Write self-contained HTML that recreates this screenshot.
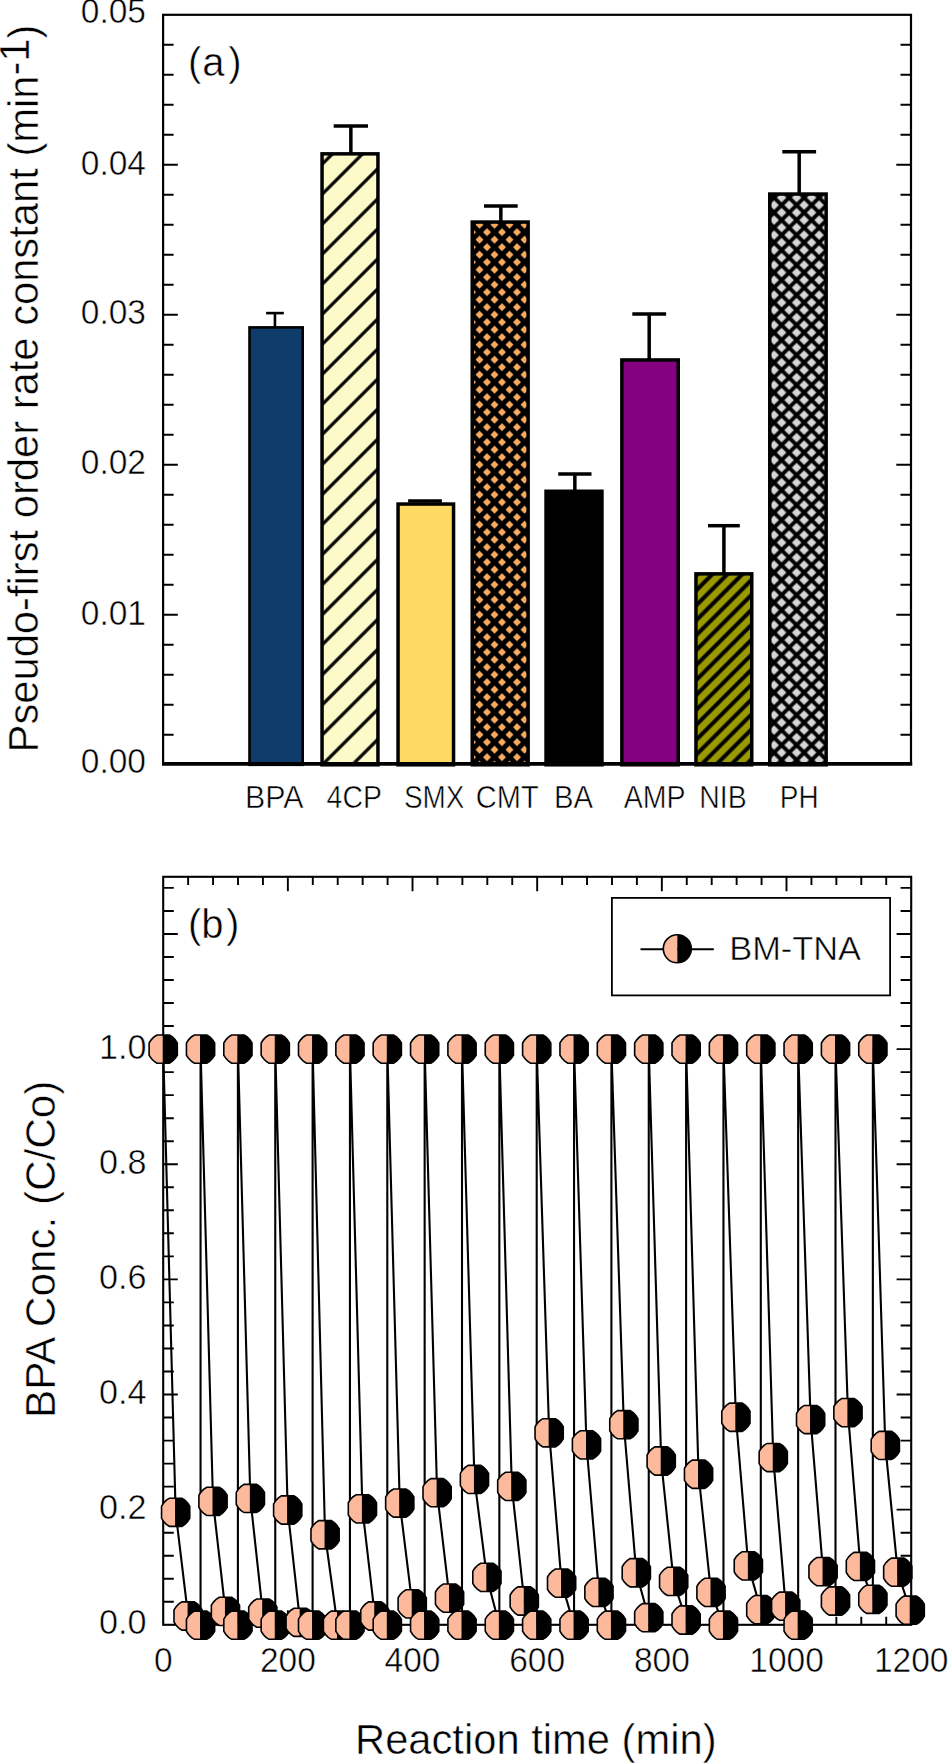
<!DOCTYPE html>
<html><head><meta charset="utf-8"><title>Figure</title>
<style>html,body{margin:0;padding:0;background:#fff;overflow:hidden}svg{display:block}text{font-family:"Liberation Sans",sans-serif;fill:#000;stroke:#fff;stroke-width:0.5px}</style>
</head><body>
<svg width="949" height="1763" viewBox="0 0 949 1763">
<rect x="0" y="0" width="949" height="1763" fill="#fff"/>
<defs>
<pattern id="p4cp" patternUnits="userSpaceOnUse" x="-6.6" y="0" width="21.2415" height="21.2415" patternTransform="rotate(45)">
<rect width="21.2415" height="21.2415" fill="#fcfac8"/>
<rect x="9.02" y="0" width="3.2" height="21.2415" fill="#000"/>
</pattern>
<pattern id="pnib" patternUnits="userSpaceOnUse" x="-4.02" y="0" width="10.5642" height="10.5642" patternTransform="rotate(45)">
<rect width="10.5642" height="10.5642" fill="#9a9a00"/>
<rect x="3.28" y="0" width="4" height="10.5642" fill="#000"/>
</pattern>
<pattern id="pcmt" patternUnits="userSpaceOnUse" x="7" y="7.2" width="15" height="15">
<rect width="15" height="15" fill="#000"/>
<path d="M-4,0L0,-4L4,0L0,4ZM11,0L15,-4L19,0L15,4ZM-4,15L0,11L4,15L0,19ZM11,15L15,11L19,15L15,19ZM3.5,7.5L7.5,3.5L11.5,7.5L7.5,11.5Z" fill="#f7aa60"/>
</pattern>
<pattern id="pph" patternUnits="userSpaceOnUse" x="1.6" y="2.6" width="15" height="15">
<rect width="15" height="15" fill="#000"/>
<path d="M-4.8,0L0,-4.8L4.8,0L0,4.8ZM10.2,0L15,-4.8L19.8,0L15,4.8ZM-4.8,15L0,10.2L4.8,15L0,19.8ZM10.2,15L15,10.2L19.8,15L15,19.8ZM2.7,7.5L7.5,2.7L12.3,7.5L7.5,12.3Z" fill="#d6d6d6"/>
</pattern>
<g id="mk"><polygon points="0,14.1 -6.25,14.1 -9.27,12.11 -12.02,9.27 -14.1,6.06 -14.1,-6.06 -12.02,-9.27 -9.27,-12.11 -6.25,-14.1 0,-14.1" fill="#fcb99b"/><polygon points="0,-14.1 6.25,-14.1 9.27,-12.11 12.02,-9.27 14.1,-6.06 14.1,6.06 12.02,9.27 9.27,12.11 6.25,14.1 0,14.1" fill="#000"/><polygon points="0,-14.1 6.25,-14.1 9.27,-12.11 12.02,-9.27 14.1,-6.06 14.1,6.06 12.02,9.27 9.27,12.11 6.25,14.1 0,14.1 -6.25,14.1 -9.27,12.11 -12.02,9.27 -14.1,6.06 -14.1,-6.06 -12.02,-9.27 -9.27,-12.11 -6.25,-14.1" fill="none" stroke="#000" stroke-width="1.6"/><line x1="0" y1="-14.1" x2="0" y2="14.1" stroke="#000" stroke-width="1"/></g>
<g id="mkc"><path d="M0,-14 A14,14 0 0 0 0,14 Z" fill="#fcb99b"/><path d="M0,-14 A14,14 0 0 1 0,14 Z" fill="#000"/><circle r="14" fill="none" stroke="#000" stroke-width="1.6"/></g>
</defs>
<line x1="274.95" y1="327.1" x2="274.95" y2="313.1" stroke="#000" stroke-width="2.6"/>
<line x1="266.1" y1="313.1" x2="283.8" y2="313.1" stroke="#000" stroke-width="2.6"/>
<rect x="249.5" y="327.4" width="53.2" height="437.4" fill="#103c6b" stroke="#000" stroke-width="2.6"/>
<line x1="350.85" y1="153.1" x2="350.85" y2="126" stroke="#000" stroke-width="3.5"/>
<line x1="333.7" y1="126" x2="368" y2="126" stroke="#000" stroke-width="3.5"/>
<rect x="322.05" y="153.85" width="55.9" height="610.95" fill="url(#p4cp)" stroke="#000" stroke-width="3.5"/>
<line x1="425" y1="503.3" x2="425" y2="501" stroke="#000" stroke-width="3.5"/>
<line x1="408.1" y1="501" x2="441.9" y2="501" stroke="#000" stroke-width="3.5"/>
<rect x="398.05" y="504.05" width="55.5" height="260.75" fill="#fed964" stroke="#000" stroke-width="3.5"/>
<line x1="500.85" y1="221.3" x2="500.85" y2="206" stroke="#000" stroke-width="3.5"/>
<line x1="484" y1="206" x2="517.7" y2="206" stroke="#000" stroke-width="3.5"/>
<rect x="472.25" y="222.05" width="55.9" height="542.75" fill="url(#pcmt)" stroke="#000" stroke-width="3.5"/>
<line x1="574.85" y1="490.5" x2="574.85" y2="474" stroke="#000" stroke-width="3.5"/>
<line x1="558.2" y1="474" x2="591.5" y2="474" stroke="#000" stroke-width="3.5"/>
<rect x="546.05" y="491.25" width="55.9" height="273.55" fill="#000" stroke="#000" stroke-width="3.5"/>
<line x1="649.2" y1="359.2" x2="649.2" y2="314" stroke="#000" stroke-width="3.5"/>
<line x1="632.3" y1="314" x2="666.1" y2="314" stroke="#000" stroke-width="3.5"/>
<rect x="621.85" y="359.95" width="56.4" height="404.85" fill="#840080" stroke="#000" stroke-width="3.5"/>
<line x1="723.9" y1="573.1" x2="723.9" y2="525.7" stroke="#000" stroke-width="3.5"/>
<line x1="708" y1="525.7" x2="739.8" y2="525.7" stroke="#000" stroke-width="3.5"/>
<rect x="695.95" y="573.85" width="55.8" height="190.95" fill="url(#pnib)" stroke="#000" stroke-width="3.5"/>
<line x1="799.2" y1="193.3" x2="799.2" y2="151.8" stroke="#000" stroke-width="3.5"/>
<line x1="782.3" y1="151.8" x2="816.1" y2="151.8" stroke="#000" stroke-width="3.5"/>
<rect x="769.75" y="194.05" width="56.4" height="570.75" fill="url(#pph)" stroke="#000" stroke-width="3.5"/>
<rect x="163.1" y="14.8" width="747.9" height="749" fill="none" stroke="#000" stroke-width="2.2"/>
<line x1="162" y1="763.9" x2="912.2" y2="763.9" stroke="#000" stroke-width="3.6"/>
<path d="M163.1,734.8H173.6M911,734.8H900.5M163.1,704.8H173.6M911,704.8H900.5M163.1,674.8H173.6M911,674.8H900.5M163.1,644.8H173.6M911,644.8H900.5M163.1,614.8H177.8M911,614.8H896.3M163.1,584.8H173.6M911,584.8H900.5M163.1,554.8H173.6M911,554.8H900.5M163.1,524.8H173.6M911,524.8H900.5M163.1,494.8H173.6M911,494.8H900.5M163.1,464.8H177.8M911,464.8H896.3M163.1,434.8H173.6M911,434.8H900.5M163.1,404.8H173.6M911,404.8H900.5M163.1,374.8H173.6M911,374.8H900.5M163.1,344.8H173.6M911,344.8H900.5M163.1,314.8H177.8M911,314.8H896.3M163.1,284.8H173.6M911,284.8H900.5M163.1,254.8H173.6M911,254.8H900.5M163.1,224.8H173.6M911,224.8H900.5M163.1,194.8H173.6M911,194.8H900.5M163.1,164.8H177.8M911,164.8H896.3M163.1,134.8H173.6M911,134.8H900.5M163.1,104.8H173.6M911,104.8H900.5M163.1,74.8H173.6M911,74.8H900.5M163.1,44.8H173.6M911,44.8H900.5" stroke="#000" stroke-width="1.9" fill="none"/>
<text transform="translate(146.0,772.99) scale(1,1.04)" font-size="33.5" text-anchor="end">0.00</text>
<text transform="translate(146.0,624.79) scale(1,1.04)" font-size="33.5" text-anchor="end">0.01</text>
<text transform="translate(146.0,473.59) scale(1,1.04)" font-size="33.5" text-anchor="end">0.02</text>
<text transform="translate(146.0,323.69) scale(1,1.04)" font-size="33.5" text-anchor="end">0.03</text>
<text transform="translate(146.0,174.99) scale(1,1.04)" font-size="33.5" text-anchor="end">0.04</text>
<text transform="translate(146.0,22.99) scale(1,1.04)" font-size="33.5" text-anchor="end">0.05</text>
<text font-size="40" y="75.6"><tspan x="188.1">(</tspan><tspan x="202.3">a</tspan><tspan x="228.3">)</tspan></text>
<text transform="translate(244.95,807.6) scale(1.0117,1.04)" font-size="30">BPA</text>
<text transform="translate(326.61,807.6) scale(0.9476,1.04)" font-size="30">4CP</text>
<text transform="translate(404,807.6) scale(0.9309,1.04)" font-size="30">SMX</text>
<text transform="translate(475.81,807.6) scale(0.9662,1.04)" font-size="30">CMT</text>
<text transform="translate(554.02,807.6) scale(0.9760,1.04)" font-size="30">BA</text>
<text transform="translate(623.79,807.6) scale(0.9504,1.04)" font-size="30">AMP</text>
<text transform="translate(699.31,807.6) scale(0.9487,1.04)" font-size="30">NIB</text>
<text transform="translate(779.76,807.6) scale(0.9312,1.04)" font-size="30">PH</text>
<text transform="translate(38,752.4) rotate(-90) scale(1.0055,1.03)" font-size="41.5">Pseudo-first order rate constant (min<tspan dy="-8.4">-1</tspan><tspan dy="8.4">)</tspan></text>
<rect x="163.2" y="876.8" width="748" height="748" fill="none" stroke="#000" stroke-width="2.1"/>
<path d="M163.2,1601.77H173.8M911.2,1601.77H900.6M163.2,1578.74H173.8M911.2,1578.74H900.6M163.2,1555.72H173.8M911.2,1555.72H900.6M163.2,1532.69H173.8M911.2,1532.69H900.6M163.2,1509.66H177.8M911.2,1509.66H896.6M163.2,1486.63H173.8M911.2,1486.63H900.6M163.2,1463.6H173.8M911.2,1463.6H900.6M163.2,1440.58H173.8M911.2,1440.58H900.6M163.2,1417.55H173.8M911.2,1417.55H900.6M163.2,1394.52H177.8M911.2,1394.52H896.6M163.2,1371.49H173.8M911.2,1371.49H900.6M163.2,1348.46H173.8M911.2,1348.46H900.6M163.2,1325.44H173.8M911.2,1325.44H900.6M163.2,1302.41H173.8M911.2,1302.41H900.6M163.2,1279.38H177.8M911.2,1279.38H896.6M163.2,1256.35H173.8M911.2,1256.35H900.6M163.2,1233.32H173.8M911.2,1233.32H900.6M163.2,1210.3H173.8M911.2,1210.3H900.6M163.2,1187.27H173.8M911.2,1187.27H900.6M163.2,1164.24H177.8M911.2,1164.24H896.6M163.2,1141.21H173.8M911.2,1141.21H900.6M163.2,1118.18H173.8M911.2,1118.18H900.6M163.2,1095.16H173.8M911.2,1095.16H900.6M163.2,1072.13H173.8M911.2,1072.13H900.6M163.2,1049.1H177.8M911.2,1049.1H896.6M163.2,1026.07H173.8M911.2,1026.07H900.6M163.2,1003.04H173.8M911.2,1003.04H900.6M163.2,980.02H173.8M911.2,980.02H900.6M163.2,956.99H173.8M911.2,956.99H900.6M163.2,933.96H177.8M911.2,933.96H896.6M163.2,910.93H173.8M911.2,910.93H900.6M163.2,887.9H173.8M911.2,887.9H900.6M188.13,876.8V884.9M188.13,1624.8V1616.7M213.06,876.8V884.9M213.06,1624.8V1616.7M238,876.8V884.9M238,1624.8V1616.7M262.93,876.8V884.9M262.93,1624.8V1616.7M287.86,876.8V891.3M287.86,1624.8V1610.3M312.79,876.8V884.9M312.79,1624.8V1616.7M337.72,876.8V884.9M337.72,1624.8V1616.7M362.66,876.8V884.9M362.66,1624.8V1616.7M387.59,876.8V884.9M387.59,1624.8V1616.7M412.52,876.8V891.3M412.52,1624.8V1610.3M437.45,876.8V884.9M437.45,1624.8V1616.7M462.38,876.8V884.9M462.38,1624.8V1616.7M487.32,876.8V884.9M487.32,1624.8V1616.7M512.25,876.8V884.9M512.25,1624.8V1616.7M537.18,876.8V891.3M537.18,1624.8V1610.3M562.11,876.8V884.9M562.11,1624.8V1616.7M587.04,876.8V884.9M587.04,1624.8V1616.7M611.98,876.8V884.9M611.98,1624.8V1616.7M636.91,876.8V884.9M636.91,1624.8V1616.7M661.84,876.8V891.3M661.84,1624.8V1610.3M686.77,876.8V884.9M686.77,1624.8V1616.7M711.7,876.8V884.9M711.7,1624.8V1616.7M736.64,876.8V884.9M736.64,1624.8V1616.7M761.57,876.8V884.9M761.57,1624.8V1616.7M786.5,876.8V891.3M786.5,1624.8V1610.3M811.43,876.8V884.9M811.43,1624.8V1616.7M836.36,876.8V884.9M836.36,1624.8V1616.7M861.3,876.8V884.9M861.3,1624.8V1616.7M886.23,876.8V884.9M886.23,1624.8V1616.7" stroke="#000" stroke-width="1.9" fill="none"/>
<polyline points="163.2,1049.1 175.65,1512.28 188.1,1615.98 200.55,1625.2 200.55,1049.1 213,1501.34 225.45,1611.37 237.9,1625.2 237.9,1049.1 250.35,1498.46 262.8,1613.1 275.25,1625.2 275.25,1049.1 287.7,1509.98 300.15,1622.32 312.6,1625.2 312.6,1049.1 325.05,1534.75 337.5,1625.2 349.95,1625.2 349.95,1049.1 362.4,1508.83 374.85,1615.98 387.3,1625.2 387.3,1049.1 399.75,1503.07 412.2,1603.88 424.65,1625.2 424.65,1049.1 437.1,1492.7 449.55,1598.12 462,1625.2 462,1049.1 474.45,1479.45 486.9,1577.38 499.35,1625.2 499.35,1049.1 511.8,1486.36 524.25,1601 536.7,1625.2 536.7,1049.1 549.15,1432.78 561.6,1583.14 574.05,1625.2 574.05,1049.1 586.5,1444.88 598.95,1592.36 611.4,1625.2 611.4,1049.1 623.85,1424.72 636.3,1572.77 648.75,1617.71 648.75,1049.1 661.2,1461.01 673.65,1581.42 686.1,1620.02 686.1,1049.1 698.55,1474.26 711,1592.36 723.45,1625.2 723.45,1049.1 735.9,1417.23 748.35,1565.86 760.8,1609.65 760.8,1049.1 773.25,1457.55 785.7,1606.19 798.15,1625.2 798.15,1049.1 810.6,1419.53 823.05,1571.62 835.5,1601 835.5,1049.1 847.95,1412.62 860.4,1566.44 872.85,1599.28 872.85,1049.1 885.3,1445.46 897.75,1572.2 910.2,1610.22" fill="none" stroke="#000" stroke-width="2.1" stroke-linejoin="round"/>
<use href="#mk" x="163.2" y="1049.1"/>
<use href="#mk" x="200.55" y="1049.1"/>
<use href="#mk" x="237.9" y="1049.1"/>
<use href="#mk" x="275.25" y="1049.1"/>
<use href="#mk" x="312.6" y="1049.1"/>
<use href="#mk" x="349.95" y="1049.1"/>
<use href="#mk" x="387.3" y="1049.1"/>
<use href="#mk" x="424.65" y="1049.1"/>
<use href="#mk" x="462" y="1049.1"/>
<use href="#mk" x="499.35" y="1049.1"/>
<use href="#mk" x="536.7" y="1049.1"/>
<use href="#mk" x="574.05" y="1049.1"/>
<use href="#mk" x="611.4" y="1049.1"/>
<use href="#mk" x="648.75" y="1049.1"/>
<use href="#mk" x="686.1" y="1049.1"/>
<use href="#mk" x="723.45" y="1049.1"/>
<use href="#mk" x="760.8" y="1049.1"/>
<use href="#mk" x="798.15" y="1049.1"/>
<use href="#mk" x="835.5" y="1049.1"/>
<use href="#mk" x="872.85" y="1049.1"/>
<use href="#mk" x="175.65" y="1512.28"/>
<use href="#mk" x="188.1" y="1615.98"/>
<use href="#mk" x="200.55" y="1625.2"/>
<use href="#mk" x="213" y="1501.34"/>
<use href="#mk" x="225.45" y="1611.37"/>
<use href="#mk" x="237.9" y="1625.2"/>
<use href="#mk" x="250.35" y="1498.46"/>
<use href="#mk" x="262.8" y="1613.1"/>
<use href="#mk" x="275.25" y="1625.2"/>
<use href="#mk" x="287.7" y="1509.98"/>
<use href="#mk" x="300.15" y="1622.32"/>
<use href="#mk" x="312.6" y="1625.2"/>
<use href="#mk" x="325.05" y="1534.75"/>
<use href="#mk" x="337.5" y="1625.2"/>
<use href="#mk" x="349.95" y="1625.2"/>
<use href="#mk" x="362.4" y="1508.83"/>
<use href="#mk" x="374.85" y="1615.98"/>
<use href="#mk" x="387.3" y="1625.2"/>
<use href="#mk" x="399.75" y="1503.07"/>
<use href="#mk" x="412.2" y="1603.88"/>
<use href="#mk" x="424.65" y="1625.2"/>
<use href="#mk" x="437.1" y="1492.7"/>
<use href="#mk" x="449.55" y="1598.12"/>
<use href="#mk" x="462" y="1625.2"/>
<use href="#mk" x="474.45" y="1479.45"/>
<use href="#mk" x="486.9" y="1577.38"/>
<use href="#mk" x="499.35" y="1625.2"/>
<use href="#mk" x="511.8" y="1486.36"/>
<use href="#mk" x="524.25" y="1601"/>
<use href="#mk" x="536.7" y="1625.2"/>
<use href="#mk" x="549.15" y="1432.78"/>
<use href="#mk" x="561.6" y="1583.14"/>
<use href="#mk" x="574.05" y="1625.2"/>
<use href="#mk" x="586.5" y="1444.88"/>
<use href="#mk" x="598.95" y="1592.36"/>
<use href="#mk" x="611.4" y="1625.2"/>
<use href="#mk" x="623.85" y="1424.72"/>
<use href="#mk" x="636.3" y="1572.77"/>
<use href="#mk" x="648.75" y="1617.71"/>
<use href="#mk" x="661.2" y="1461.01"/>
<use href="#mk" x="673.65" y="1581.42"/>
<use href="#mk" x="686.1" y="1620.02"/>
<use href="#mk" x="698.55" y="1474.26"/>
<use href="#mk" x="711" y="1592.36"/>
<use href="#mk" x="723.45" y="1625.2"/>
<use href="#mk" x="735.9" y="1417.23"/>
<use href="#mk" x="748.35" y="1565.86"/>
<use href="#mk" x="760.8" y="1609.65"/>
<use href="#mk" x="773.25" y="1457.55"/>
<use href="#mk" x="785.7" y="1606.19"/>
<use href="#mk" x="798.15" y="1625.2"/>
<use href="#mk" x="810.6" y="1419.53"/>
<use href="#mk" x="823.05" y="1571.62"/>
<use href="#mk" x="835.5" y="1601"/>
<use href="#mk" x="847.95" y="1412.62"/>
<use href="#mk" x="860.4" y="1566.44"/>
<use href="#mk" x="872.85" y="1599.28"/>
<use href="#mk" x="885.3" y="1445.46"/>
<use href="#mk" x="897.75" y="1572.2"/>
<use href="#mk" x="910.2" y="1610.22"/>
<text transform="translate(146.6,1634.39) scale(1.02,1.04)" font-size="33.5" text-anchor="end">0.0</text>
<text transform="translate(146.6,1519.25) scale(1.02,1.04)" font-size="33.5" text-anchor="end">0.2</text>
<text transform="translate(146.6,1404.11) scale(1.02,1.04)" font-size="33.5" text-anchor="end">0.4</text>
<text transform="translate(146.6,1288.97) scale(1.02,1.04)" font-size="33.5" text-anchor="end">0.6</text>
<text transform="translate(146.6,1173.83) scale(1.02,1.04)" font-size="33.5" text-anchor="end">0.8</text>
<text transform="translate(146.6,1058.69) scale(1.02,1.04)" font-size="33.5" text-anchor="end">1.0</text>
<text transform="translate(163.2,1671.8) scale(1,1.04)" font-size="33.5" text-anchor="middle">0</text>
<text transform="translate(287.86,1671.8) scale(1,1.04)" font-size="33.5" text-anchor="middle">200</text>
<text transform="translate(412.52,1671.8) scale(1,1.04)" font-size="33.5" text-anchor="middle">400</text>
<text transform="translate(537.18,1671.8) scale(1,1.04)" font-size="33.5" text-anchor="middle">600</text>
<text transform="translate(661.84,1671.8) scale(1,1.04)" font-size="33.5" text-anchor="middle">800</text>
<text transform="translate(786.5,1671.8) scale(1,1.04)" font-size="33.5" text-anchor="middle">1000</text>
<text transform="translate(911.16,1671.8) scale(1,1.04)" font-size="33.5" text-anchor="middle">1200</text>
<rect x="611.9" y="897.9" width="278.2" height="97.5" fill="#fff" stroke="#000" stroke-width="1.8"/>
<line x1="640.5" y1="949.2" x2="713.8" y2="949.2" stroke="#000" stroke-width="1.9"/>
<use href="#mkc" x="677.3" y="948.8"/>
<text font-size="40" y="937.6"><tspan x="188.1">(</tspan><tspan x="201.3">b</tspan><tspan x="226">)</tspan></text>
<text transform="translate(729.22,959.9) scale(1.0751,1.04)" font-size="32">BM-TNA</text>
<text transform="translate(355.01,1754) scale(1.0053,1.03)" font-size="41.5">Reaction time (min)</text>
<text transform="translate(55.4,1417.95) rotate(-90) scale(1.0182,1.03)" font-size="41.5">BPA Conc. (C/Co)</text>
</svg>
</body></html>
